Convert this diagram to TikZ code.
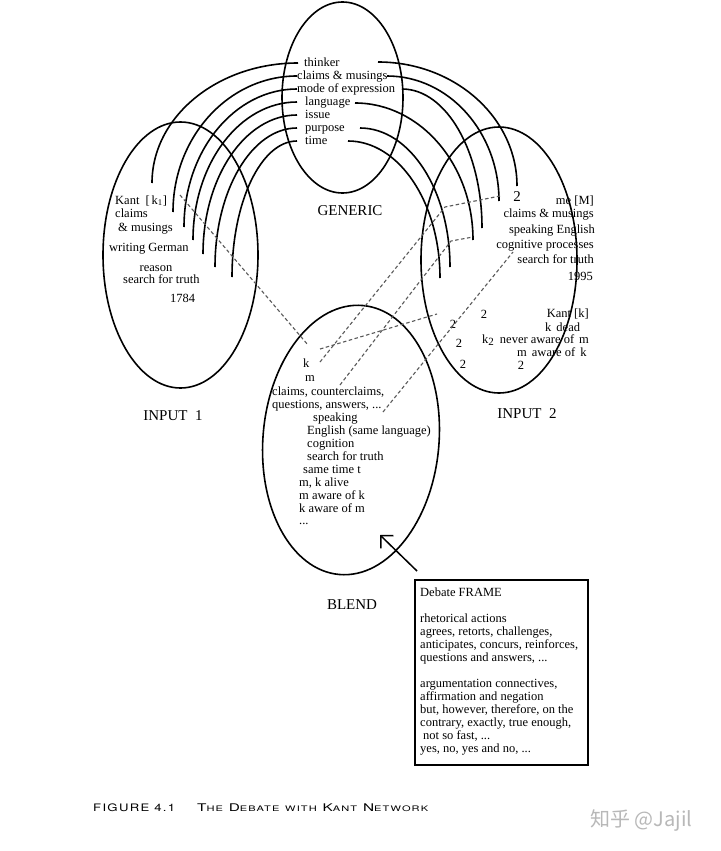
\documentclass[tikz,border=0pt]{standalone}
\usepackage{fontspec}
\setmainfont{Liberation Serif}
\newfontfamily\capfont[LetterSpace=10]{TeX Gyre Heros}
\newfontfamily\cjkfont{Noto Sans CJK SC}
\usetikzlibrary{shapes.geometric,arrows.meta}
\newcommand\capsm[1]{{\fontsize{7.2}{8}\selectfont #1}}
\begin{document}
\begin{tikzpicture}[x=1pt,y=-1pt,
  ell/.style={draw, ellipse, line width=1.6pt, inner sep=0pt},
  arcline/.style={line width=1.6pt},
  dsh/.style={black!65, line width=1.1pt, dash pattern=on 3.5pt off 2.5pt},
  txt/.style={font=\fontsize{12.5}{13}\selectfont, inner sep=0pt, anchor=base west},
  rtxt/.style={txt, anchor=base east},
  ttl/.style={font=\fontsize{15}{16}\selectfont, inner sep=0pt, anchor=base},
  two/.style={font=\fontsize{12.5}{13}\selectfont, inner sep=0pt, anchor=center},
  bigtwo/.style={font=\fontsize{15}{16}\selectfont, inner sep=0pt, anchor=center}]
\useasboundingbox (0,0) rectangle (720,851);
\fill[white] (0,0) rectangle (720,851);

% ellipses
\node[ell, minimum width=121pt, minimum height=191pt] (generic) at (342.5,97.5) {};
\node[ell, minimum width=155pt, minimum height=266pt] (input1) at (180.5,255) {};
\node[ell, minimum width=156pt, minimum height=266pt] (input2) at (499,260) {};
\node[ell, minimum width=176pt, minimum height=270pt, rotate=-5] (blend) at (351,440) {};

% titles
\node[ttl] (tgen) at (350,215.5) {GENERIC};
\node[ttl] (tin1) at (173,420) {INPUT\ \ 1};
\node[ttl] (tin2) at (527,418) {INPUT\ \ 2};
\node[ttl] (tbl) at (352,609) {BLEND};

% generic texts
\node[txt] (g1) at (304,66.5) {thinker};
\node[txt] (g2) at (297,79.5) {claims \& musings};
\node[txt] (g3) at (297,92.5) {mode of expression};
\node[txt] (g4) at (305,105.5) {language};
\node[txt] (g5) at (305,118.5) {issue};
\node[txt] (g6) at (305,131.5) {purpose};
\node[txt] (g7) at (305,144.5) {time};

% arc end points
\coordinate (gl1) at (298,63);  \coordinate (il1) at (152,183);
\coordinate (gl2) at (297,76);  \coordinate (il2) at (173,212);
\coordinate (gl3) at (297,89);  \coordinate (il3) at (184,227);
\coordinate (gl4) at (297,102); \coordinate (il4) at (193,240);
\coordinate (gl5) at (297,115); \coordinate (il5) at (203,254);
\coordinate (gl6) at (297,128); \coordinate (il6) at (215,267);
\coordinate (gl7) at (297,141); \coordinate (il7) at (232,277);
\coordinate (gr1) at (378,62);  \coordinate (ir1) at (517,186);
\coordinate (gr2) at (387,76);  \coordinate (ir2) at (499,201);
\coordinate (gr3) at (402,89);  \coordinate (ir3) at (482,228);
\coordinate (gr4) at (355,103); \coordinate (ir4) at (473,240);
\coordinate (gr6) at (360,128); \coordinate (ir6) at (450,267);
\coordinate (gr7) at (348,141); \coordinate (ir7) at (440,278);

% left arcs
\draw[arcline] (gl1) .. controls +(-80.6,0) and +(0,-66.2) .. (il1);
\draw[arcline] (gl2) .. controls +(-68.4,0) and +(0,-75.1) .. (il2);
\draw[arcline] (gl3) .. controls +(-62.4,0) and +(0,-76.2) .. (il3);
\draw[arcline] (gl4) .. controls +(-57.4,0) and +(0,-76.2) .. (il4);
\draw[arcline] (gl5) .. controls +(-51.9,0) and +(0,-76.7) .. (il5);
\draw[arcline] (gl6) .. controls +(-45.3,0) and +(0,-76.7) .. (il6);
\draw[arcline] (gl7) .. controls +(-35.9,0) and +(0,-75.1) .. (il7);
% right arcs
\draw[arcline] (gr1) .. controls +(76.7,0) and +(0,-68.4) .. (ir1);
\draw[arcline] (gr2) .. controls +(61.8,0) and +(0,-69.0) .. (ir2);
\draw[arcline] (gr3) .. controls +(44.2,0) and +(0,-76.7) .. (ir3);
\draw[arcline] (gr4) .. controls +(65.1,0) and +(0,-75.6) .. (ir4);
\draw[arcline] (gr6) .. controls +(49.7,0) and +(0,-76.7) .. (ir6);
\draw[arcline] (gr7) .. controls +(50.8,0) and +(0,-75.6) .. (ir7);

% input 1 texts
\node[txt] (a1) at (115,204) {Kant\hspace{6pt}[\,k\textsubscript{1}]};
\node[txt] (a2) at (115,217) {claims};
\node[txt] (a3) at (118,231) {\& musings};
\node[txt] (a4) at (109,251) {writing German};
\node[txt, anchor=base] (a5) at (156,271) {reason};
\node[txt] (a6) at (123,283) {search for truth};
\node[txt] (a7) at (170,302) {1784};

% input 2 texts
\node[bigtwo] (b0) at (517,197) {2};
\node[rtxt] (b1) at (594,204) {me [M]};
\node[rtxt] (b2) at (594,217) {claims \& musings};
\node[rtxt] (b3) at (595,233) {speaking English};
\node[rtxt] (b4) at (594,248) {cognitive processes};
\node[rtxt] (b5) at (594,263) {search for truth};
\node[rtxt] (b6) at (593,280) {1995};
\node[rtxt] (b7) at (589,317) {Kant [k]};
\node[txt] (b8) at (545,331) {k\hspace{5pt}dead};
\node[txt] (b9) at (482,343) {k\raisebox{-2pt}{\fontsize{11}{12}\selectfont 2}\hspace{6pt}never aware of\hspace{5pt}m};
\node[txt] (b10) at (517,356) {m\hspace{5pt}aware of\hspace{5pt}k};
\node[two] (t1) at (484,314) {2};
\node[two] (t2) at (453,324) {2};
\node[two] (t3) at (459,343) {2};
\node[two] (t4) at (463,364) {2};
\node[two] (t5) at (521,365) {2};

% blend texts
\node[txt] (c1) at (303,367) {k};
\node[txt] (c2) at (305,381) {m};
\node[txt] (c3) at (272,395) {claims, counterclaims,};
\node[txt] (c4) at (272,408) {questions, answers, ...};
\node[txt] (c5) at (313,421) {speaking};
\node[txt] (c6) at (307,434) {English (same language)};
\node[txt] (c7) at (307,447) {cognition};
\node[txt] (c8) at (307,460) {search for truth};
\node[txt] (c9) at (303,473) {same time t};
\node[txt] (c10) at (299,486) {m, k alive};
\node[txt] (c11) at (299,499) {m aware of k};
\node[txt] (c12) at (299,512) {k aware of m};
\node[txt] (c13) at (299,524) {...};

% dashed mappings
\coordinate (d1a) at (180,195); \coordinate (d1b) at (308,345);
\coordinate (daa) at (320,362); \coordinate (dab) at (445,207); \coordinate (dac) at (500,196);
\coordinate (dba) at (320,349); \coordinate (dbb) at (437,314);
\coordinate (dca) at (340,385); \coordinate (dcb) at (451,241); \coordinate (dcc) at (473,237);
\coordinate (dda) at (383,412); \coordinate (ddb) at (513,252);
\draw[dsh] (d1a) -- (d1b);
\draw[dsh] (daa) -- (dab) -- (dac);
\draw[dsh] (dba) -- (dbb);
\draw[dsh] (dca) -- (dcb) -- (dcc);
\draw[dsh] (dda) -- (ddb);

% frame box
\node[draw, line width=1.8pt, minimum width=173pt, minimum height=185pt, anchor=north west, inner sep=0pt] (frame) at (414,579) {};
\node[txt] (f1) at (420,596) {Debate FRAME};
\node[txt] (f2) at (420,622) {rhetorical actions};
\node[txt] (f3) at (420,635) {agrees, retorts, challenges,};
\node[txt] (f4) at (420,648) {anticipates, concurs, reinforces,};
\node[txt] (f5) at (420,661) {questions and answers, ...};
\node[txt] (f6) at (420,687) {argumentation connectives,};
\node[txt] (f7) at (420,700) {affirmation and negation};
\node[txt] (f8) at (420,713) {but, however, therefore, on the};
\node[txt] (f9) at (420,726) {contrary, exactly, true enough,};
\node[txt] (f10) at (423,739) {not so fast, ...};
\node[txt] (f11) at (420,752) {yes, no, yes and no, ...};

% arrow
\coordinate (arrtail) at (417,571);
\coordinate (arrhead) at (380,535);
\draw[line width=1.5pt, -{Straight Barb[length=9pt, width=18pt]}] (arrtail) -- (arrhead);

% caption
\node[anchor=base west, inner sep=0pt] (fig) at (93,811) {\resizebox{82pt}{7.7pt}{\capfont FIGURE 4.1}};
\node[anchor=base west, inner sep=0pt] (figt) at (197,811) {\resizebox{231pt}{7.7pt}{\capfont T\capsm{HE} D\capsm{EBATE} \capsm{WITH} K\capsm{ANT} N\capsm{ETWORK}}};

% watermark
\node[anchor=west, inner sep=0pt, text=black!28, font=\cjkfont\fontsize{20}{22}\selectfont] (wm) at (590,820) {知乎 @Jajil};
\end{tikzpicture}
\end{document}
